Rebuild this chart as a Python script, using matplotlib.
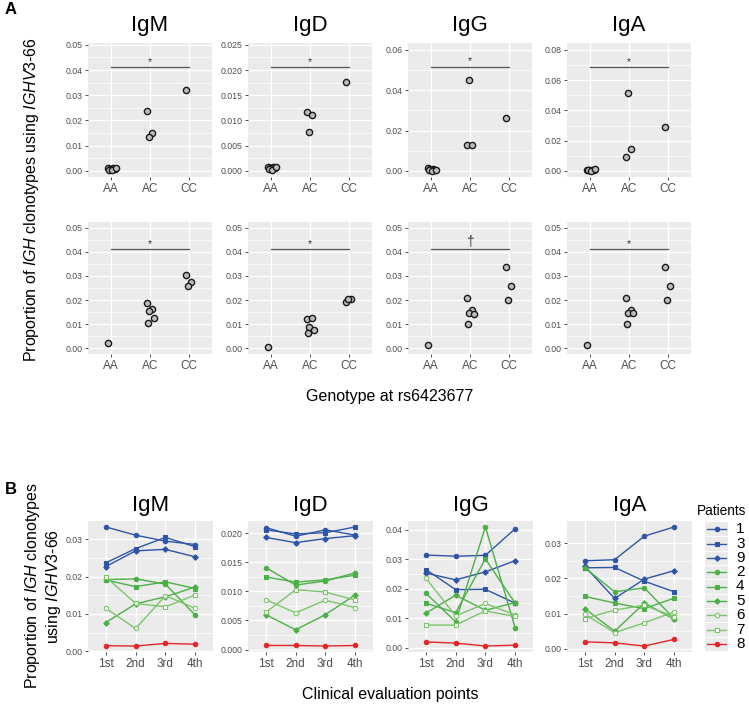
import matplotlib
matplotlib.use("Agg")
import matplotlib.pyplot as plt
import numpy as np

plt.rcParams['font.family'] = ['Liberation Sans', 'DejaVu Sans']
plt.rcParams['mathtext.fontset'] = 'custom'
plt.rcParams['mathtext.rm'] = 'Liberation Sans'
plt.rcParams['mathtext.it'] = 'Liberation Sans:italic'

# ---------- dados painel A (genótipos) ----------
isotypes = ["IgM", "IgD", "IgG", "IgA"]
genotypes = ["AA", "AC", "CC"]

# linha de cima: [AA, AC, CC]
igm_top = [[0.0012, 0.0010, 0.0008, 0.0006, 0.0004, 0.0002, 0.0011], [0.0236, 0.0150, 0.0135], [0.0320]]
igd_top = [[0.0008, 0.0007, 0.0006, 0.0005, 0.0003, 0.0001, 0.0008], [0.0116, 0.0110, 0.0077], [0.0176]]
igg_top = [[0.0015, 0.0012, 0.0008, 0.0005, 0.0003, 0.0002, 0.0004], [0.0128, 0.0130, 0.0452], [0.0261]]
iga_top = [[0.0004, 0.0008, 0.0006, 0.0004, 0.0003, 0.0002, 0.0012], [0.0090, 0.0145, 0.0518], [0.0290]]

# linha de baixo
igm_bot = [[0.0023], [0.0188, 0.0163, 0.0153, 0.0127, 0.0105], [0.0305, 0.0275, 0.0258]]
igd_bot = [[0.0007], [0.0122, 0.0127, 0.0088, 0.0078, 0.0063], [0.0193, 0.0203, 0.0205]]
igg_bot = [[0.0013], [0.0207, 0.0160, 0.0145, 0.0143, 0.0102], [0.0335, 0.0260, 0.0200]]
iga_bot = [[0.0013], [0.0207, 0.0160, 0.0147, 0.0145, 0.0102], [0.0335, 0.0260, 0.0200]]

sig_top = ["*", "*", "*", "*"]
sig_bot = ["*", "*", "\u2020", "*"]
sig_y_top = [0.041, 0.0205, 0.0515, 0.0685]
sig_y_bot = [0.041, 0.041, 0.041, 0.041]

# ---------- dados painel B (pontos de avaliação) ----------
time_points = ["1st", "2nd", "3rd", "4th"]
patients = ["1", "3", "9", "2", "4", "5", "6", "7", "8"]

igm_b = [
    [0.0333, 0.0311, 0.0295, 0.0286],
    [0.0237, 0.0275, 0.0305, 0.0280],
    [0.0227, 0.0269, 0.0273, 0.0253],
    [0.0192, 0.0194, 0.0180, 0.0097],
    [0.0191, 0.0173, 0.0186, 0.0168],
    [0.0077, 0.0127, 0.0146, 0.0172],
    [0.0115, 0.0061, 0.0149, 0.0115],
    [0.0199, 0.0128, 0.0119, 0.0151],
    [0.0015, 0.0014, 0.0021, 0.0019],
]
igd_b = [
    [0.0210, 0.0195, 0.0206, 0.0197],
    [0.0206, 0.0199, 0.0201, 0.0211],
    [0.0193, 0.0184, 0.0191, 0.0196],
    [0.0141, 0.0111, 0.0118, 0.0132],
    [0.0125, 0.0116, 0.0120, 0.0128],
    [0.0060, 0.0034, 0.0060, 0.0094],
    [0.0086, 0.0063, 0.0085, 0.0072],
    [0.0064, 0.0103, 0.0099, 0.0085],
    [0.0007, 0.0007, 0.0006, 0.0007],
]
igg_b = [
    [0.0314, 0.0310, 0.0313, 0.0403],
    [0.0265, 0.0197, 0.0198, 0.0151],
    [0.0253, 0.0230, 0.0257, 0.0295],
    [0.0185, 0.0088, 0.0409, 0.0068],
    [0.0151, 0.0119, 0.0301, 0.0151],
    [0.0117, 0.0178, 0.0127, 0.0153],
    [0.0236, 0.0108, 0.0150, 0.0111],
    [0.0077, 0.0077, 0.0125, 0.0106],
    [0.0020, 0.0016, 0.0006, 0.0009],
]
iga_b = [
    [0.0250, 0.0253, 0.0320, 0.0346],
    [0.0230, 0.0231, 0.0192, 0.0162],
    [0.0234, 0.0143, 0.0198, 0.0222],
    [0.0230, 0.0162, 0.0173, 0.0086],
    [0.0149, 0.0130, 0.0114, 0.0144],
    [0.0114, 0.0050, 0.0130, 0.0084],
    [0.0098, 0.0046, 0.0074, 0.0105],
    [0.0086, 0.0110, 0.0124, 0.0091],
    [0.0020, 0.0017, 0.0008, 0.0027],
]

# ---------- estilo ----------
BLUE = "#2F55A5"
GREEN = "#4CAF48"
LGREEN = "#7CC46A"
RED = "#E3262A"
pat_colors = [BLUE, BLUE, BLUE, GREEN, GREEN, GREEN, LGREEN, LGREEN, RED]
pat_markers = ["o", "s", "D", "o", "s", "D", "o", "s", "o"]
pat_fill = [True, True, True, True, True, True, False, False, True]
jitter = [-0.08, 0.05, -0.02, 0.1, -0.05, 0.02, 0.12]

W, H = 749, 704
fig = plt.figure(figsize=(W / 100, H / 100), dpi=100)

lefts = [88, 248, 408, 567]
pw = 124


def px_axes(x0, top, w, h):
    return fig.add_axes([x0 / W, 1 - (top + h) / H, w / W, h / H])


def gg_style(ax, yticks, fmt):
    ax.set_facecolor("#EBEBEB")
    for s in ax.spines.values():
        s.set_visible(False)
    ax.set_yticks(yticks)
    ax.set_yticklabels([fmt.format(v) for v in yticks])
    minor = [(a + b) / 2 for a, b in zip(yticks[:-1], yticks[1:])]
    ax.set_yticks(minor, minor=True)
    ax.grid(True, which="major", color="white", lw=1.0)
    ax.grid(True, which="minor", axis="y", color="white", lw=0.5)
    ax.tick_params(axis="y", which="major", labelsize=6.3, labelcolor="#4D4D4D",
                   length=2.5, width=0.6, color="#333333", pad=1.5)
    ax.tick_params(axis="y", which="minor", length=0)
    ax.tick_params(axis="x", labelsize=8.5, labelcolor="#4D4D4D",
                   length=2.5, width=0.6, color="#333333", pad=2)
    ax.set_axisbelow(True)


def scatter_panel(ax, groups, ylim, yticks, fmt, sig, sig_y):
    for gi, vals in enumerate(groups):
        xs = [gi + 1 + jitter[k % len(jitter)] for k in range(len(vals))]
        ax.scatter(xs, vals, s=20, facecolor="#BDBDBD", edgecolor="#1A1A1A",
                   linewidths=1.0, zorder=3)
    ax.set_xlim(0.4, 3.6)
    ax.set_ylim(*ylim)
    ax.set_xticks([1, 2, 3])
    ax.set_xticklabels(genotypes)
    gg_style(ax, yticks, fmt)
    ax.plot([1, 3], [sig_y, sig_y], color="#555555", lw=0.9, zorder=4)
    span = ylim[1] - ylim[0]
    if sig == "*":
        ax.text(2, sig_y + span * 0.04, sig, ha="center", va="center", fontsize=7.5, color="#333333")
    else:
        ax.text(2, sig_y + span * 0.055, sig, ha="center", va="center", fontsize=10, color="#333333")


top_data = [igm_top, igd_top, igg_top, iga_top]
bot_data = [igm_bot, igd_bot, igg_bot, iga_bot]
top_lims = [(-0.0024, 0.0507), (-0.0012, 0.02535), (-0.003, 0.0633), (-0.004, 0.0845)]
top_ticks = [np.arange(0, 0.051, 0.01), np.arange(0, 0.0251, 0.005),
             np.arange(0, 0.061, 0.02), np.arange(0, 0.081, 0.02)]
top_fmt = ["{:.2f}", "{:.3f}", "{:.2f}", "{:.2f}"]

for i in range(4):
    ax = px_axes(lefts[i], 43, pw, 134)
    scatter_panel(ax, top_data[i], top_lims[i], list(top_ticks[i]), top_fmt[i], sig_top[i], sig_y_top[i])
    ax.set_title(isotypes[i], fontsize=16, pad=9)
    ax2 = px_axes(lefts[i], 222, pw, 132)
    scatter_panel(ax2, bot_data[i], (-0.0023, 0.0523), list(np.arange(0, 0.051, 0.01)), "{:.2f}",
                  sig_bot[i], sig_y_bot[i])

# ---------- painel B ----------
b_data = [igm_b, igd_b, igg_b, iga_b]
b_ticks = [np.arange(0, 0.031, 0.01), np.arange(0, 0.0201, 0.005),
           np.arange(0, 0.041, 0.01), np.arange(0, 0.031, 0.01)]
b_fmt = ["{:.2f}", "{:.3f}", "{:.2f}", "{:.2f}"]
xb = np.arange(1, len(time_points) + 1)

for i in range(4):
    ax = px_axes(lefts[i], 521, pw + 1, 131)
    series = b_data[i]
    for p in range(len(patients)):
        ax.plot(xb, series[p], color=pat_colors[p], lw=1.0, marker=pat_markers[p],
                ms=3.2 if pat_markers[p] != "D" else 2.8,
                markerfacecolor=pat_colors[p] if pat_fill[p] else "white",
                markeredgecolor=pat_colors[p], markeredgewidth=0.8, zorder=3)
    allv = np.array(series)
    lo, hi = allv.min(), allv.max()
    pad = (hi - lo) * 0.05
    ax.set_ylim(lo - pad, hi + pad)
    ax.set_xlim(0.4, 4.6)
    ax.set_xticks(xb)
    ax.set_xticklabels(time_points)
    gg_style(ax, list(b_ticks[i]), b_fmt[i])
    ax.set_title(isotypes[i], fontsize=16, pad=7)

# legenda
lax = px_axes(705, 522, 23, 129)
lax.set_facecolor("#EBEBEB")
for s in lax.spines.values():
    s.set_visible(False)
lax.set_xticks([])
lax.set_yticks([])
lax.set_xlim(0, 1)
lax.set_ylim(len(patients) - 0.5, -0.5)
for p, name in enumerate(patients):
    lax.plot([0.1, 0.9], [p, p], color=pat_colors[p], lw=1.0)
    lax.plot([0.5], [p], color=pat_colors[p], marker=pat_markers[p],
             ms=3.2 if pat_markers[p] != "D" else 2.8,
             markerfacecolor=pat_colors[p] if pat_fill[p] else "white",
             markeredgecolor=pat_colors[p], markeredgewidth=0.8)
    if p > 0:
        lax.axhline(p - 0.5, color="white", lw=0.6)
    lax.text(1.35, p, name, fontsize=11, va="center", ha="left", transform=lax.transData, clip_on=False)
fig.text(697 / W, 1 - 511 / H, "Patients", fontsize=9.8, va="center", ha="left")

# textos gerais
fig.text(5 / W, 1 - 9 / H, "A", fontsize=12, fontweight="bold", va="center")
fig.text(5 / W, 1 - 490 / H, "B", fontsize=12, fontweight="bold", va="center")
fig.text(32 / W, 1 - 200 / H, r"Proportion of $\mathit{IGH}$ clonotypes using $\mathit{IGHV3}$-$\mathit{66}$",
         rotation=90, fontsize=11.5, ha="center", va="center")
fig.text(390 / W, 1 - 396 / H, "Genotype at rs6423677", fontsize=11.5, ha="center", va="center")
fig.text(43 / W, 1 - 586 / H, "Proportion of $\\mathit{IGH}$ clonotypes\nusing $\\mathit{IGHV3}$-$\\mathit{66}$",
         rotation=90, fontsize=11.5, ha="center", va="center", linespacing=1.1)
fig.text(390 / W, 1 - 694 / H, "Clinical evaluation points", fontsize=11.5, ha="center", va="center")

fig.savefig("out.png", dpi=100)
